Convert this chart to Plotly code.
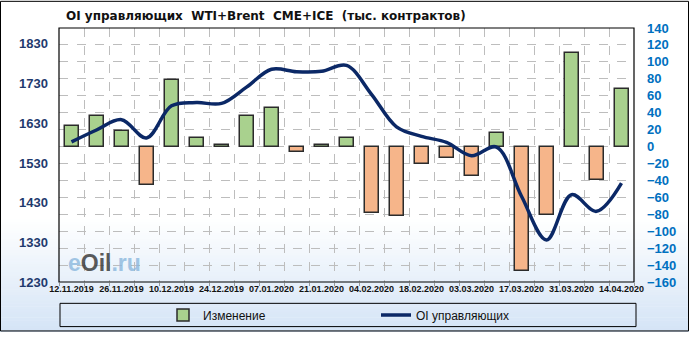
import plotly.graph_objects as go
import pandas as pd

# ---- data ----
dates = ["12.11.2019", "19.11.2019", "26.11.2019", "03.12.2019", "10.12.2019", "17.12.2019",
         "24.12.2019", "31.12.2019", "07.01.2020", "14.01.2020", "21.01.2020", "28.01.2020",
         "04.02.2020", "11.02.2020", "18.02.2020", "25.02.2020", "03.03.2020", "10.03.2020",
         "17.03.2020", "24.03.2020", "31.03.2020", "07.04.2020", "14.04.2020"]
changes = [24, 36, 18, -46, 79, 10, 2, 36, 45, -7, 2, 10,
           -79, -82, -21, -14, -35, 16, -147, -81, 110, -39, 68]
oi = [1583, 1613, 1639, 1593, 1674, 1682, 1680, 1721, 1766, 1760, 1761, 1776,
      1703, 1621, 1597, 1582, 1548, 1570, 1446, 1336, 1450, 1408, 1479]
left_ticks = [1230, 1330, 1430, 1530, 1630, 1730, 1830]
right_ticks = list(range(-160, 141, 20))

W, H = 689, 341
ML, MR, MT, MB = 59, 55, 28, 51
PW, PH = W - ML - MR, H - MT - MB

def px2x(x):
    return (x - ML) / PW

def px2y(y):
    return (H - MB - y) / PH

x = pd.to_datetime(dates, format="%d.%m.%Y")
half = pd.Timedelta(days=3.5)
week_ms = 7 * 24 * 3600 * 1000
boundaries = [x[0] - half] + [d + half for d in x]

bar_colors = ["#a9d18e" if v >= 0 else "#f6b58a" for v in changes]

fig = go.Figure()
fig.add_trace(go.Bar(
    x=x, y=changes, name="Изменение", yaxis="y",
    width=week_ms * 0.56,
    marker=dict(color=bar_colors, line=dict(color="#2b2b2b", width=1.5)),
))
fig.add_trace(go.Scatter(
    x=x, y=oi, name="OI управляющих", yaxis="y2", mode="lines",
    line=dict(color="#0b2866", width=3.5, shape="spline", smoothing=1.0),
))

shapes = []
# background gradient bands (whole figure)
n = 40
y_start, y_end = 225, H
c0 = (255, 255, 255)
c1 = (212, 228, 246)
for i in range(n):
    t = (i + 0.5) / n
    col = tuple(int(round(c0[k] + (c1[k] - c0[k]) * t)) for k in range(3))
    ya = y_start + (y_end - y_start) * i / n
    yb = y_start + (y_end - y_start) * (i + 1) / n + 0.5
    shapes.append(dict(type="rect", xref="paper", yref="paper",
                       x0=px2x(0), x1=px2x(W), y0=px2y(yb), y1=px2y(ya),
                       fillcolor="rgb(%d,%d,%d)" % col, line=dict(width=0), layer="below"))
# plot area border
shapes.append(dict(type="rect", xref="paper", yref="paper", x0=0, x1=1, y0=0, y1=1,
                   line=dict(color="#000000", width=1.2), layer="above"))
# legend box
shapes.append(dict(type="rect", xref="paper", yref="paper",
                   x0=px2x(60), x1=px2x(636), y0=px2y(336), y1=px2y(312),
                   line=dict(color="#000000", width=1), fillcolor="rgba(0,0,0,0)", layer="below"))
# figure border
shapes.append(dict(type="rect", xref="paper", yref="paper",
                   x0=px2x(0.5), x1=px2x(W - 0.5), y0=px2y(H - 0.5), y1=px2y(0.5),
                   line=dict(color="#000000", width=1), layer="above"))

fig.update_layout(
    width=W, height=H,
    margin=dict(l=ML, r=MR, t=MT, b=MB),
    paper_bgcolor="#ffffff",
    plot_bgcolor="rgba(0,0,0,0)",
    shapes=shapes,
    bargap=0,
    showlegend=True,
    legend=dict(orientation="h", x=px2x(163), y=px2y(324), xanchor="left", yanchor="middle",
                bgcolor="rgba(0,0,0,0)", entrywidth=168, entrywidthmode="pixels",
                font=dict(family="Liberation Sans", size=12, color="#111111"),
                traceorder="normal"),
    title=dict(text="OI управляющих\u00a0 WTI+Brent\u00a0 CME+ICE\u00a0 (тыс. контрактов)",
               xref="container", yref="container", x=66 / W, xanchor="left",
               y=1 - 16 / H, yanchor="middle",
               font=dict(family="DejaVu Sans", size=12, color="#111111", weight="bold")),
    xaxis=dict(
        type="date",
        range=[x[0] - half, x[-1] + half],
        tickvals=list(x[::2]), ticktext=dates[::2],
        showgrid=False, zeroline=False, showline=False,
        ticks="", tickfont=dict(family="Liberation Sans", size=9, color="#111111", weight="bold"),
        minor=dict(tickvals=boundaries, showgrid=True, gridcolor="#bdbdbd", griddash="dash",
                   gridwidth=1, ticks="outside", ticklen=3, tickcolor="#999999"),
    ),
    yaxis=dict(
        side="right", range=[-160, 140], tickvals=right_ticks,
        showgrid=True, gridcolor="#bdbdbd", griddash="dash", gridwidth=1,
        zeroline=False, showline=False, ticks="", ticklabelstandoff=12,
        tickfont=dict(family="Liberation Sans", size=13, color="#0070c0", weight="bold"),
    ),
    yaxis2=dict(
        side="left", overlaying="y", range=[1230, 1870], tickvals=left_ticks,
        showgrid=False, zeroline=False, showline=False, ticks="", ticklabelstandoff=10,
        tickfont=dict(family="Liberation Sans", size=13, color="#1f3a6e", weight="bold"),
    ),
    annotations=[dict(
        text="<span style='color:#8cb8de'>e</span><span style='color:#333333'>Oil</span>"
             "<span style='color:#8cb8de'>.ru</span>",
        xref="paper", yref="paper", x=px2x(66), y=px2y(270), xanchor="left", yanchor="middle",
        showarrow=False, font=dict(family="Liberation Sans", size=23, weight="bold"),
        opacity=0.8)],
)

fig.write_html("out.html")
